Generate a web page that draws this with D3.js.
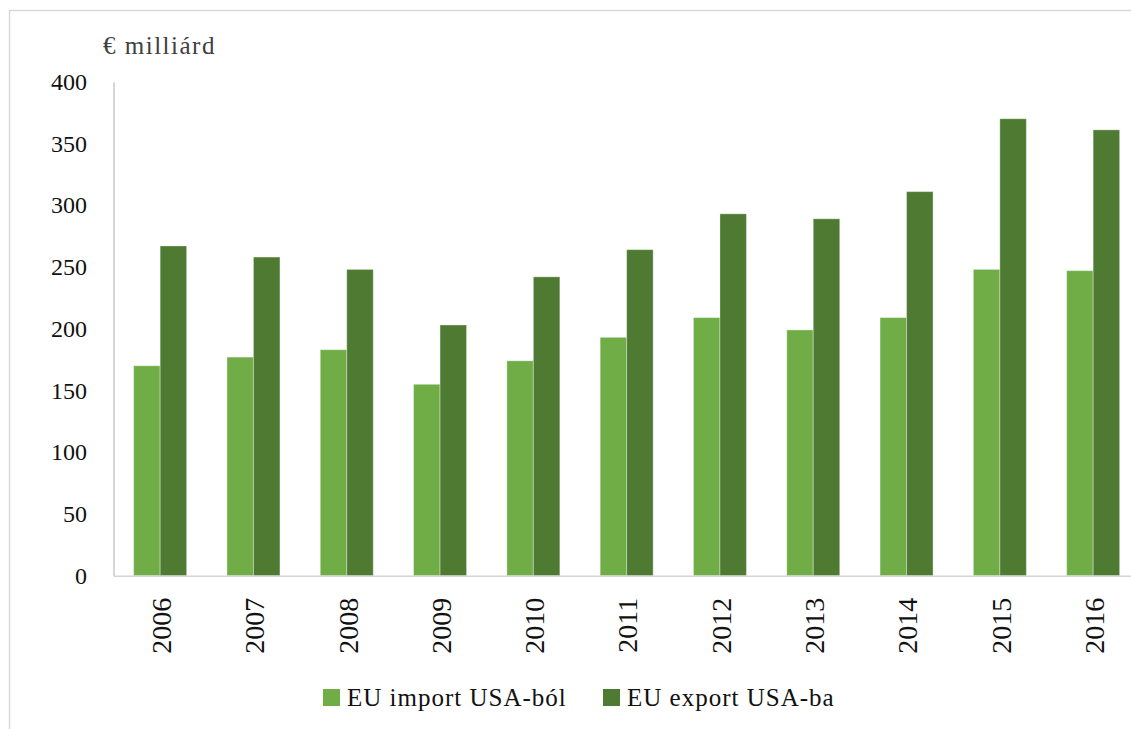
<!DOCTYPE html>
<html>
<head>
<meta charset="utf-8">
<script src="https://cdn.jsdelivr.net/npm/d3@7"></script>
<style>
  body { margin: 0; background: #fff; }
  svg text { font-family: "Liberation Serif", "Times New Roman", serif; }
</style>
</head>
<body>
<svg id="chart"></svg>
<script>
const years = ["2006", "2007", "2008", "2009", "2010", "2011", "2012", "2013", "2014", "2015", "2016"];
const importValues = [170, 177, 183, 155, 174, 193, 209, 199, 209, 248, 247];
const exportValues = [267, 258, 248, 203, 242, 264, 293, 289, 311, 370, 361];
const seriesNames = ["EU import USA-ból", "EU export USA-ba"];
const yTicks = [0, 50, 100, 150, 200, 250, 300, 350, 400];

const W = 1131, H = 729;
const margin = { top: 81.7, left: 113.5 };
const plotW = 1026.3, plotH = 494;

const svg = d3.select("#chart").attr("width", W).attr("height", H);

// kulso keret (jobbra/lent levagva, mint az eredetin)
svg.append("rect")
  .attr("x", 9.5).attr("y", 10.5)
  .attr("width", W + 20).attr("height", H + 20)
  .attr("fill", "none").attr("stroke", "#d9d9d9").attr("stroke-width", 1.5);

const g = svg.append("g").attr("transform", `translate(${margin.left},${margin.top})`);

const x = d3.scaleBand().domain(years).range([0, plotW]).paddingInner(0.432).paddingOuter(0.216);
const xs = d3.scaleBand().domain([0, 1]).range([0, x.bandwidth()]);
const y = d3.scaleLinear().domain([0, 400]).range([plotH, 0]);
const color = d3.scaleOrdinal().domain([0, 1]).range(["#70ad47", "#4e7a31"]);

const rows = years.map((yr, i) => ({ year: yr, vals: [importValues[i], exportValues[i]] }));

g.selectAll(".grp")
  .data(rows)
  .enter().append("g")
  .attr("transform", d => `translate(${x(d.year)},0)`)
  .selectAll("rect")
  .data(d => d.vals.map((v, k) => ({ k, v })))
  .enter().append("rect")
  .attr("x", d => xs(d.k))
  .attr("y", d => y(d.v))
  .attr("width", xs.bandwidth())
  .attr("height", d => plotH - y(d.v))
  .attr("fill", d => color(d.k))
  .attr("stroke", "#ffffff").attr("stroke-opacity", 0.35).attr("stroke-width", 1);

// y tengely
const yAxis = g.append("g")
  .call(d3.axisLeft(y).tickValues(yTicks).tickSize(0).tickPadding(26.5));
yAxis.select(".domain").attr("stroke", "#c8c8c8").attr("stroke-width", 1.5);
yAxis.selectAll("text").attr("font-size", 24).attr("fill", "#111")
  .attr("font-family", "Liberation Serif");

// x tengely
const xAxis = g.append("g")
  .attr("transform", `translate(0,${plotH})`)
  .call(d3.axisBottom(x).tickSize(0));
xAxis.select(".domain").attr("stroke", "#d4d4d4").attr("stroke-width", 1.5);
xAxis.selectAll("text")
  .attr("font-size", 28).attr("fill", "#111")
  .attr("font-family", "Liberation Serif")
  .attr("text-anchor", "end")
  .attr("transform", "rotate(-90)")
  .attr("x", -22).attr("y", 1).attr("dy", "0.35em");

// y tengely cime
svg.append("text")
  .attr("x", 103).attr("y", 54)
  .attr("font-size", 25).attr("letter-spacing", 1.5).attr("fill", "#404040")
  .text("€ milliárd");

// jelmagyarazat
const legendX = [323, 603];
const legend = svg.selectAll(".leg")
  .data(seriesNames)
  .enter().append("g")
  .attr("transform", (d, i) => `translate(${legendX[i]},689)`);
legend.append("rect")
  .attr("width", 17).attr("height", 17)
  .attr("fill", (d, i) => color(i));
legend.append("text")
  .attr("x", 24).attr("y", 17)
  .attr("font-size", 25).attr("letter-spacing", 1).attr("fill", "#111")
  .text(d => d);
</script>
</body>
</html>
